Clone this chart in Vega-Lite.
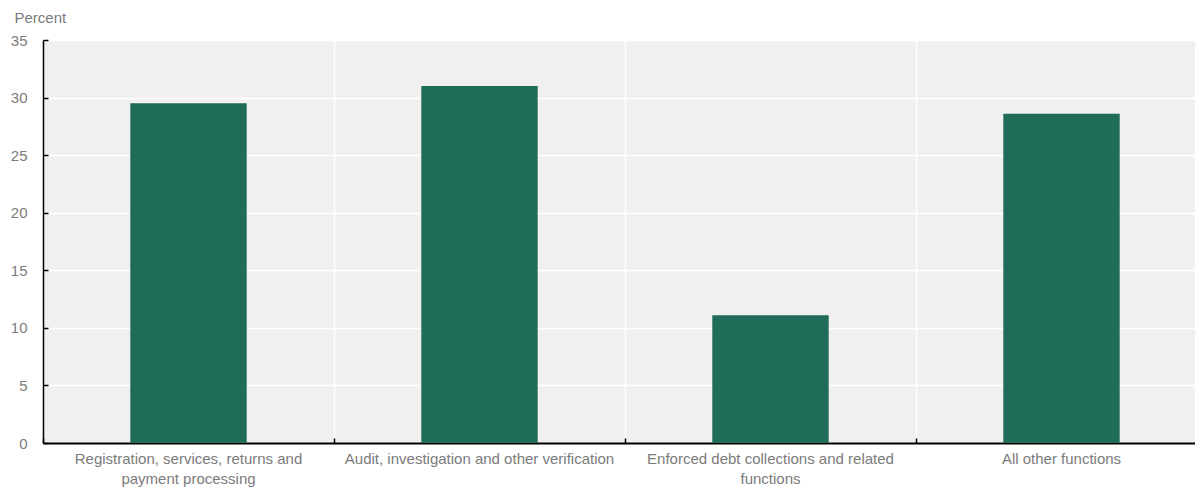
{
  "$schema": "https://vega.github.io/schema/vega-lite/v6.json",
  "width": 1164,
  "height": 403,
  "autosize": {"type": "none"},
  "padding": {"left": 43, "top": 40, "right": 0, "bottom": 45},
  "background": "white",
  "config": {
    "view": {"fill": "#f0f0f0", "stroke": null},
    "font": "Liberation Sans"
  },
  "data": {
    "values": [
      {"function": "Registration, services, returns and payment processing", "share": 29.5},
      {"function": "Audit, investigation and other verification", "share": 31.0},
      {"function": "Enforced debt collections and related functions", "share": 11.1},
      {"function": "All other functions", "share": 28.6}
    ]
  },
  "mark": {"type": "bar", "color": "#1f6c59", "width": {"band": 0.4}},
  "encoding": {
    "x": {
      "field": "function",
      "type": "nominal",
      "sort": null,
      "scale": {"paddingInner": 0, "paddingOuter": 0},
      "axis": {
        "title": null,
        "labelAngle": 0,
        "bandPosition": 0,
        "grid": true,
        "gridColor": "white",
        "gridWidth": 1.5,
        "domainColor": "black",
        "domainWidth": 2,
        "tickColor": "black",
        "tickWidth": 1.5,
        "tickSize": -5,
        "labelPadding": 13,
        "labelFontSize": 15,
        "labelColor": "#7b7b7b",
        "labelLineHeight": 20,
        "labelOverlap": false,
        "labelBound": false,
        "labelLimit": 0,
        "labelExpr": "datum.value == 'Registration, services, returns and payment processing' ? ['Registration, services, returns and', 'payment processing'] : datum.value == 'Enforced debt collections and related functions' ? ['Enforced debt collections and related', 'functions'] : datum.value"
      }
    },
    "y": {
      "field": "share",
      "type": "quantitative",
      "scale": {"domain": [0, 35], "nice": false},
      "axis": {
        "values": [0, 5, 10, 15, 20, 25, 30, 35],
        "title": "Percent",
        "titleAngle": 0,
        "titleAlign": "left",
        "titleBaseline": "alphabetic",
        "titleX": -29,
        "titleY": -18,
        "titleFontSize": 15,
        "titleFontWeight": "normal",
        "titleColor": "#7b7b7b",
        "grid": true,
        "gridColor": "white",
        "gridWidth": 1.5,
        "domainColor": "black",
        "domainWidth": 1.5,
        "tickColor": "black",
        "tickWidth": 1.5,
        "tickSize": -5,
        "labelPadding": 21,
        "labelFontSize": 15,
        "labelColor": "#7b7b7b"
      }
    }
  }
}
